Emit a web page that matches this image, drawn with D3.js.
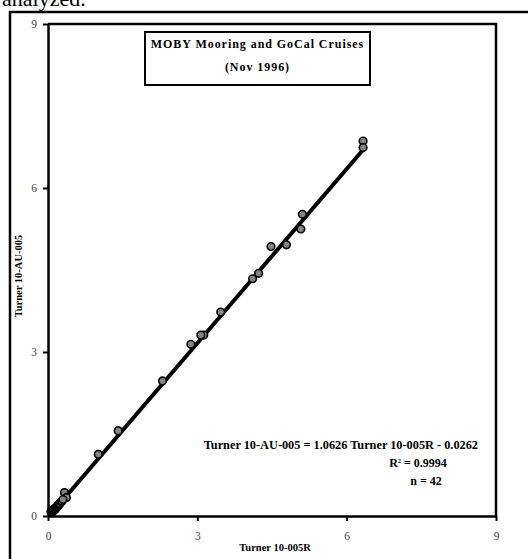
<!DOCTYPE html>
<html>
<head>
<meta charset="utf-8">
<script src="https://cdn.jsdelivr.net/npm/d3@7"></script>
<style>
  html, body { margin: 0; padding: 0; background: #fff; }
  svg { display: block; }
  text { font-family: "Liberation Serif", "Times New Roman", serif; }
</style>
</head>
<body>
<svg id="chart" width="528" height="559"></svg>
<script>
// ---- data ----
const xValues = [6.33, 6.33, 5.11, 5.08, 4.79, 4.48, 4.23, 4.11, 3.47, 3.13, 3.07, 2.87, 2.30, 1.41, 1.01, 0.33, 0.37,
  0.06, 0.07, 0.08, 0.09, 0.10, 0.10, 0.11, 0.12, 0.12, 0.13, 0.14, 0.15, 0.15, 0.16, 0.17, 0.18, 0.19, 0.20, 0.21, 0.22, 0.23, 0.24, 0.26, 0.28, 0.30];
const yValues = [6.86, 6.74, 5.52, 5.25, 4.96, 4.93, 4.44, 4.34, 3.73, 3.31, 3.31, 3.14, 2.47, 1.56, 1.13, 0.43, 0.34,
  0.08, 0.09, 0.07, 0.10, 0.09, 0.11, 0.10, 0.12, 0.10, 0.13, 0.12, 0.14, 0.13, 0.15, 0.16, 0.17, 0.18, 0.19, 0.20, 0.21, 0.22, 0.23, 0.26, 0.27, 0.30];
const xTicks = [0, 3, 6, 9];
const yTicks = [0, 3, 6, 9];
const slope = 1.0626, intercept = -0.0262;
const titleLines = ["MOBY Mooring and GoCal Cruises", "(Nov 1996)"];
const xTitle = "Turner 10-005R";
const yTitle = "Turner 10-AU-005";
const eqLine1 = "Turner 10-AU-005 = 1.0626 Turner 10-005R - 0.0262";
const eqR2 = "0.9994";
const eqN = "n = 42";

// ---- drawing ----
const svg = d3.select("#chart");

// page fragment text at top
svg.append("text").attr("x", 2).attr("y", 6)
  .attr("font-size", 22).attr("fill", "#000").text("analyzed.");

// outer frame (extends beyond view on right and bottom)
svg.append("path").attr("d", "M10,600 L10,12 L540,12")
  .attr("fill", "none").attr("stroke", "#000").attr("stroke-width", 2.5);

const L = 48, R = 496, T = 24, B = 516;
const x = d3.scaleLinear().domain([0, 9]).range([L, R]);
const y = d3.scaleLinear().domain([0, 9]).range([B, T]);

// plot box top & right
svg.append("path").attr("d", `M${L},${T} L${R},${T} L${R},${B}`)
  .attr("fill", "none").attr("stroke", "#000").attr("stroke-width", 2.5);

// axes
const xAxis = svg.append("g").attr("transform", `translate(0,${B})`)
  .call(d3.axisBottom(x).tickValues(xTicks).tickSize(5).tickSizeOuter(0).tickPadding(11).tickFormat(d3.format("d")));
const yAxis = svg.append("g").attr("transform", `translate(${L},0)`)
  .call(d3.axisLeft(y).tickValues(yTicks).tickSize(5).tickSizeOuter(0).tickPadding(6).tickFormat(d3.format("d")));
[xAxis, yAxis].forEach(g => {
  g.select(".domain").attr("stroke", "#000").attr("stroke-width", 2.5);
  g.selectAll(".tick line").attr("stroke", "#000").attr("stroke-width", 2);
  g.selectAll(".tick text").attr("font-family", "'Liberation Serif', serif")
    .attr("font-size", 11.5).attr("fill", "#444");
});

// regression line
const xMin = d3.min(xValues), xMax = d3.max(xValues);
svg.append("line")
  .attr("x1", x(xMin)).attr("y1", y(slope * xMin + intercept))
  .attr("x2", x(xMax)).attr("y2", y(slope * xMax + intercept))
  .attr("stroke", "#000").attr("stroke-width", 4).attr("stroke-linecap", "round");

// points
svg.append("g").selectAll("circle").data(xValues.map((v, i) => [v, yValues[i]]))
  .join("circle")
  .attr("cx", d => x(d[0])).attr("cy", d => y(d[1])).attr("r", 3.8)
  .attr("fill", "#858585").attr("stroke", "#000").attr("stroke-width", 1.6);

// title box
svg.append("rect").attr("x", 145).attr("y", 32).attr("width", 225).attr("height", 53)
  .attr("fill", "#fff").attr("stroke", "#000").attr("stroke-width", 2);
svg.append("text").attr("x", 257.5).attr("y", 48).attr("text-anchor", "middle")
  .attr("font-size", 12).attr("font-weight", "bold").attr("letter-spacing", 0.95)
  .text(titleLines[0]);
svg.append("text").attr("x", 257.5).attr("y", 71).attr("text-anchor", "middle")
  .attr("font-size", 12).attr("font-weight", "bold").attr("letter-spacing", 0.95)
  .text(titleLines[1]);

// axis titles
svg.append("text").attr("x", 275).attr("y", 551).attr("text-anchor", "middle")
  .attr("font-size", 10.5).attr("font-weight", "bold").text(xTitle);
svg.append("text").attr("transform", "translate(22,276) rotate(-90)").attr("text-anchor", "middle")
  .attr("font-size", 10.5).attr("font-weight", "bold").text(yTitle);

// equation
svg.append("text").attr("x", 478).attr("y", 449).attr("text-anchor", "end")
  .attr("font-size", 12.3).attr("font-weight", "bold").text(eqLine1);
const r2 = svg.append("text").attr("x", 418).attr("y", 467).attr("text-anchor", "middle")
  .attr("font-size", 12).attr("font-weight", "bold");
r2.append("tspan").text("R");
r2.append("tspan").attr("dy", -4).attr("font-size", 6).text("2");
r2.append("tspan").attr("dy", 4).text(" = " + eqR2);
svg.append("text").attr("x", 426).attr("y", 485).attr("text-anchor", "middle")
  .attr("font-size", 12).attr("font-weight", "bold").text(eqN);
</script>
</body>
</html>
